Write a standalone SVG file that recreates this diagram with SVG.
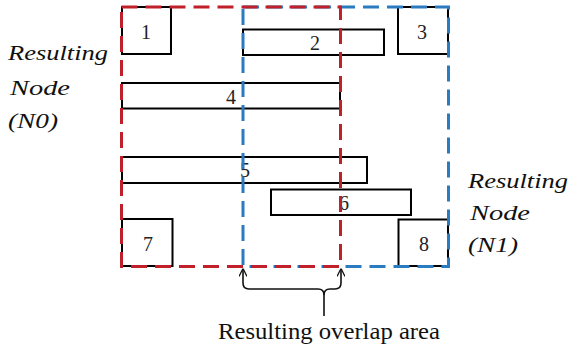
<svg xmlns="http://www.w3.org/2000/svg" width="572" height="349" viewBox="0 0 572 349">
<defs>
<style>
.box{fill:#fff;stroke:#000;stroke-width:2}
.num{font-family:"Liberation Serif","Times New Roman",serif;font-size:20px;fill:#222;text-anchor:middle}
.lab{font-family:"Liberation Serif","Times New Roman",serif;font-style:italic;font-size:22px;fill:#111}
.red{fill:none;stroke:#c0202a;stroke-width:3;stroke-dasharray:16 8}
.blue{fill:none;stroke:#2a7bbf;stroke-width:3;stroke-dasharray:16 8}
.conn{fill:none;stroke:#111;stroke-width:1.6}
</style>
<marker id="ah" viewBox="0 0 10 10" refX="10" refY="5" markerWidth="8" markerHeight="8" orient="auto" markerUnits="userSpaceOnUse">
<path d="M0,0 L10,5 L0,10" fill="none" stroke="#111" stroke-width="1.6"/>
</marker>
</defs>
<rect width="572" height="349" fill="#fff"/>
<g id="node1"><rect class="box" x="122" y="7" width="49" height="47"/><text class="num" x="146" y="39">1</text></g>
<g id="node2"><rect class="box" x="243" y="29.5" width="141" height="25.5"/><text class="num" x="315" y="50">2</text></g>
<g id="node3"><rect class="box" x="398" y="7" width="50" height="47"/><text class="num" x="422" y="39">3</text></g>
<g id="node4"><rect class="box" x="122" y="83" width="218" height="25.5"/><text class="num" x="231" y="104">4</text></g>
<g id="node5"><rect class="box" x="122" y="157" width="245" height="26"/><text class="num" x="245" y="177">5</text></g>
<g id="node6"><rect class="box" x="271" y="189.5" width="140" height="25.5"/><text class="num" x="344" y="210">6</text></g>
<g id="node7"><rect class="box" x="122" y="219" width="50.5" height="47"/><text class="num" x="148" y="251">7</text></g>
<g id="node8"><rect class="box" x="398.5" y="219.5" width="49.5" height="46.5"/><text class="num" x="424" y="251">8</text></g>
<g id="n1"><rect class="blue" x="243" y="7" width="205.5" height="259.5"/></g>
<g id="n0"><rect class="red" x="121.5" y="7" width="219" height="259.5"/></g>
<g id="label-n0">
<text class="lab" x="8" y="60" textLength="100" lengthAdjust="spacingAndGlyphs">Resulting</text>
<text class="lab" x="10" y="95" textLength="60" lengthAdjust="spacingAndGlyphs">Node</text>
<text class="lab" x="8" y="128" textLength="50" lengthAdjust="spacingAndGlyphs">(N0)</text>
</g>
<g id="label-n1">
<text class="lab" x="468" y="188" textLength="100" lengthAdjust="spacingAndGlyphs">Resulting</text>
<text class="lab" x="470" y="220" textLength="60" lengthAdjust="spacingAndGlyphs">Node</text>
<text class="lab" x="468" y="252" textLength="50" lengthAdjust="spacingAndGlyphs">(N1)</text>
</g>
<g id="connectors">
<path class="conn" d="M324,316 L324,295 Q324,289 318,289 L249,289 Q243,289 243,283 L243,268.5" marker-end="url(#ah)"/>
<path class="conn" d="M324,295 Q324,289 330,289 L335,289 Q341,289 341,283 L341,268.5" marker-end="url(#ah)"/>
</g>
<text id="overlap-label" x="218" y="339" font-family="Liberation Serif, serif" font-size="24" fill="#111" textLength="222" lengthAdjust="spacingAndGlyphs">Resulting overlap area</text>
</svg>
